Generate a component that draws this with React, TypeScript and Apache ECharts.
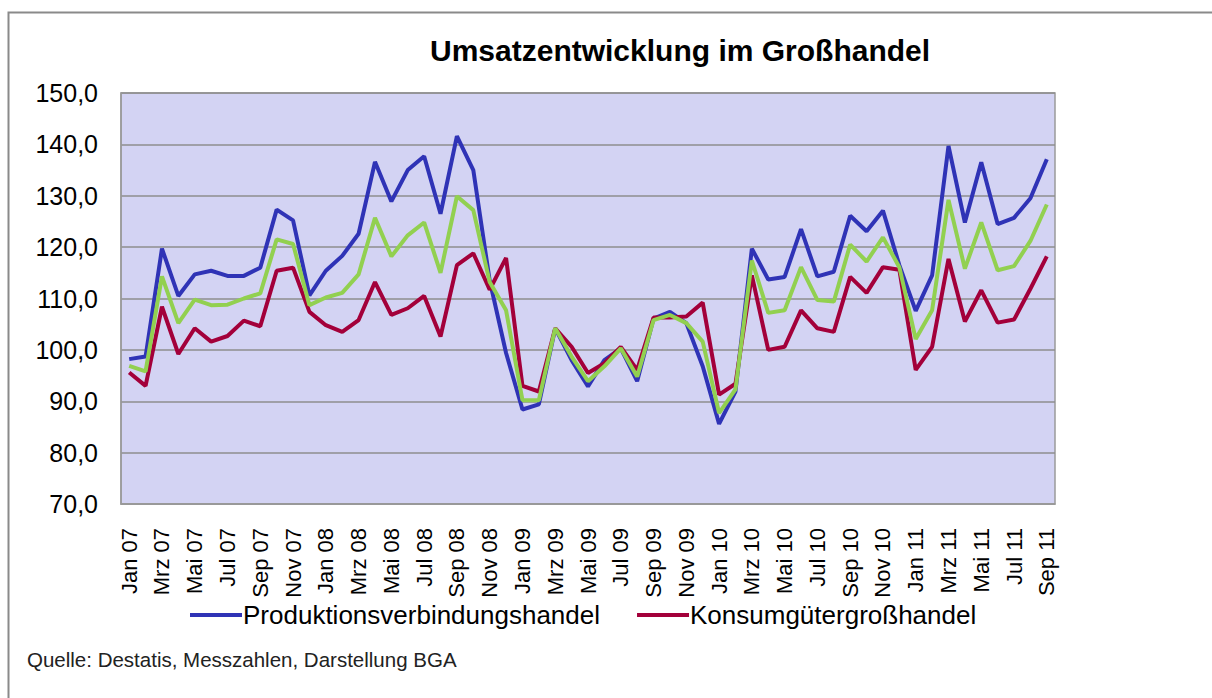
import React, { useEffect, useRef } from "react";
import * as echarts from "echarts";

const monthNames = ["Jan", "Feb", "Mrz", "Apr", "Mai", "Jun", "Jul", "Aug", "Sep", "Okt", "Nov", "Dez"];
const years = ["07", "08", "09", "10", "11"];
const categories: string[] = [];
years.forEach((y) => monthNames.forEach((m) => categories.push(m + " " + y)));
const months = categories.slice(0, 57); // Jan 07 .. Sep 11

const produktion = [
  98.2, 98.7, 119.7, 110.5, 114.7, 115.4, 114.4, 114.4, 116.0, 127.3, 125.2, 110.6,
  115.4, 118.3, 122.6, 136.6, 128.9, 135.0, 137.7, 126.5, 141.6, 135.0, 113.5, 99.4,
  88.4, 89.4, 104.2, 98.0, 92.9, 98.0, 100.3, 93.9, 106.1, 107.4, 105.2, 96.8,
  85.6, 91.9, 119.7, 113.7, 114.2, 123.5, 114.3, 115.2, 126.1, 123.1, 127.1, 116.5,
  107.6, 114.5, 139.7, 124.8, 136.5, 124.5, 125.7, 129.5, 137.1,
];
const gesamt = [
  96.9, 95.8, 114.3, 105.2, 109.8, 108.7, 108.8, 110.0, 111.0, 121.5, 120.6, 108.7,
  110.2, 111.1, 114.7, 125.7, 118.2, 122.3, 124.8, 115.0, 129.9, 127.2, 113.2, 107.7,
  90.2, 90.2, 104.2, 98.7, 93.9, 96.8, 100.3, 94.8, 105.8, 106.8, 105.2, 101.6,
  87.7, 92.3, 117.4, 107.2, 107.7, 116.1, 109.7, 109.4, 120.5, 117.2, 121.9, 116.1,
  102.1, 107.7, 129.2, 115.8, 124.8, 115.5, 116.3, 121.2, 128.3,
];
const konsum = [
  95.6, 93.0, 108.4, 99.2, 104.2, 101.6, 102.7, 105.7, 104.6, 115.4, 116.0, 107.4,
  104.8, 103.5, 105.8, 113.2, 106.8, 108.1, 110.5, 102.6, 116.5, 118.8, 111.7, 117.9,
  93.0, 91.9, 104.2, 100.6, 95.5, 97.4, 100.6, 96.1, 106.3, 106.3, 106.5, 109.2,
  91.3, 93.4, 114.5, 100.0, 100.6, 107.7, 104.2, 103.5, 114.2, 111.1, 116.1, 115.6,
  96.1, 100.6, 117.7, 105.5, 111.6, 105.3, 105.9, 111.9, 118.2,
];

const FONT = "'Liberation Sans', Arial, sans-serif";

export default function App() {
  const ref = useRef<HTMLDivElement>(null);
  useEffect(() => {
    if (!ref.current) return;
    const chart = echarts.init(ref.current, null, { renderer: "svg" });
    chart.setOption({
      animation: false,
      backgroundColor: "#ffffff",
      textStyle: { fontFamily: FONT },
      title: {
        text: "Umsatzentwicklung im Großhandel",
        left: 425,
        top: 30,
        textStyle: { fontFamily: FONT, fontSize: 30, fontWeight: "bold", color: "#000" },
      },
      legend: {
        data: ["Produktionsverbindungshandel", "Konsumgütergroßhandel"],
        left: 185,
        top: 597,
        icon: "rect",
        itemWidth: 52,
        itemHeight: 4,
        itemGap: 37,
        textStyle: { fontFamily: FONT, fontSize: 26, color: "#000", padding: [0, 0, 0, -4] },
      },
      grid: {
        left: 121,
        top: 93,
        width: 934,
        height: 411,
        show: true,
        backgroundColor: "#d3d3f3",
        borderColor: "#9a9a9a",
        borderWidth: 1.5,
      },
      xAxis: {
        type: "category",
        data: months,
        boundaryGap: true,
        axisLine: { show: true, lineStyle: { color: "#9a9a9a", width: 1.5 } },
        axisTick: { show: false },
        axisLabel: {
          interval: 1,
          rotate: 90,
          margin: 24,
          fontFamily: FONT,
          fontSize: 22,
          color: "#000",
        },
      },
      yAxis: {
        type: "value",
        min: 70,
        max: 150,
        interval: 10,
        axisLine: { show: true, lineStyle: { color: "#9a9a9a", width: 1.5 } },
        axisTick: { show: false },
        splitLine: { show: true, lineStyle: { color: "#8e8e8e", width: 1.5 } },
        axisLabel: {
          margin: 23,
          fontFamily: FONT,
          fontSize: 25,
          color: "#000",
          formatter: (v: number) => v.toFixed(1).replace(".", ","),
        },
      },
      graphic: [
        {
          type: "rect",
          shape: { x: 8.5, y: 12.5, width: 1300, height: 800 },
          style: { fill: "none", stroke: "#8a8a8a", lineWidth: 2 },
          silent: true,
        },
        {
          type: "text",
          left: 27,
          top: 649,
          style: {
            text: "Quelle: Destatis, Messzahlen, Darstellung BGA",
            fontFamily: FONT,
            fontSize: 20.5,
            fill: "#222",
          },
        },
      ],
      series: [
        {
          name: "Produktionsverbindungshandel",
          type: "line",
          data: produktion,
          symbol: "none",
          lineStyle: { color: "#2f33b6", width: 4 },
          itemStyle: { color: "#2f33b6" },
          z: 2,
        },
        {
          name: "Konsumgütergroßhandel",
          type: "line",
          data: konsum,
          symbol: "none",
          lineStyle: { color: "#a3003a", width: 4 },
          itemStyle: { color: "#a3003a" },
          z: 3,
        },
        {
          name: "Großhandel insgesamt",
          type: "line",
          data: gesamt,
          symbol: "none",
          lineStyle: { color: "#92d050", width: 4 },
          itemStyle: { color: "#92d050" },
          z: 4,
        },
      ],
    });
    return () => chart.dispose();
  }, []);
  return (
    <div
      ref={ref}
      style={{ position: "fixed", left: 0, top: 0, width: 1212, height: 698 }}
    />
  );
}
